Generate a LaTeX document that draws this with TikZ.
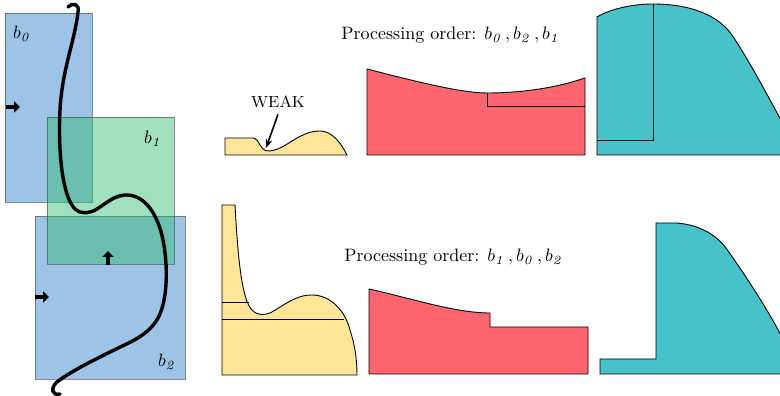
\documentclass[tikz,border=0pt]{standalone}
\usepackage{amsmath,amssymb}
\usepackage{xcolor,tikz}
\usetikzlibrary{arrows.meta}
\definecolor{blkblue}{RGB}{37,122,199}
\definecolor{blkgreen}{RGB}{44,186,110}
\definecolor{partyel}{RGB}{255,229,153}
\definecolor{partred}{RGB}{255,102,112}
\definecolor{partteal}{RGB}{72,193,200}

\begin{document}
\begin{tikzpicture}[x=0.556pt,y=-0.556pt,
  blk/.style={draw=black!70,line width=0.5pt,fill opacity=0.45,draw opacity=0.65},
  part/.style={draw=black,line width=0.5pt},
  push/.style={line width=2.2pt,-{Triangle[length=3.2pt,width=6pt]}},
  lbl/.style={inner sep=0pt}]
\useasboundingbox (0,0) rectangle (780,396);
% blocks
\fill[blk,fill=blkblue] (5,13) rectangle (92,202);
\fill[blk,fill=blkblue] (35,216) rectangle (185,379);
\fill[blk,fill=blkgreen] (47,117) rectangle (174,264);
\node[lbl] (b0) at (22,34) {$b_{\mathit 0}$};
\node[lbl] (b1) at (153,139) {$b_{\mathit 1}$};
\node[lbl] (b2) at (167,362) {$b_{\mathit 2}$};
\draw[push] (6,107) -- (20,107);
\draw[push] (35,297) -- (49,297);
\draw[push] (108,265) -- (108,251);
% curve
\draw[line width=1.9pt,line cap=round] (68,7) .. controls (72,2) and (80,4) .. (78,12)
  .. controls (75,40) and (62,70) .. (60,110) .. controls (58,150) and (62,190) .. (72,205)
  .. controls (76,212) and (82,214) .. (90,212) .. controls (100,210) and (110,196) .. (125,195)
  .. controls (145,194) and (158,215) .. (163,240) .. controls (168,265) and (168,300) .. (158,318)
  .. controls (148,336) and (130,342) .. (110,352) .. controls (90,362) and (70,372) .. (57,382)
  .. controls (50,388) and (52,396) .. (60,394);

% top row: b0, b2, b1
\node[lbl,anchor=base west] (order1) at (341,40) {Processing order: $b_{\mathit 0}\,,b_{\mathit 2}\,,b_{\mathit 1}$};
\filldraw[part,fill=partyel] (225,155) -- (225,138) -- (253,138) .. controls (259,138) and (260,151) .. (268,151)
  .. controls (285,151) and (298,131) .. (320,131) .. controls (333,131) and (342,145) .. (347,155) -- cycle;
\node[lbl,font=\small] (weak) at (278,102) {WEAK};
\coordinate (dip) at (266,148);
\draw[-{Stealth[length=5pt]},line width=0.9pt] (weak.south) ++(0,6) -- (dip);
\filldraw[part,fill=partred] (367,155) -- (367,69) .. controls (410,80) and (460,93) .. (487,93)
  .. controls (530,93) and (565,85) .. (585,78) -- (585,155) -- cycle;
\draw[part] (487,93) -- (487,106) -- (585,106);
\filldraw[part,fill=partteal] (597,155) -- (597,17) .. controls (612,8) and (635,4) .. (653,4)
  .. controls (690,4) and (718,15) .. (732,35) .. controls (750,62) and (770,100) .. (782,122) -- (782,155) -- cycle;
\draw[part] (597,140) -- (653,140) -- (653,4);

% bottom row: b1, b0, b2
\node[lbl,anchor=base west] (order2) at (344,262) {Processing order: $b_{\mathit 1}\,,b_{\mathit 0}\,,b_{\mathit 2}$};
\filldraw[part,fill=partyel] (222,375) -- (222,205) -- (235,205) .. controls (238,260) and (242,300) .. (252,310)
  .. controls (258,316) and (264,315) .. (270,313) .. controls (285,305) and (295,295) .. (312,295)
  .. controls (330,295) and (345,310) .. (350,330) .. controls (355,345) and (357,360) .. (357,375) -- cycle;
\draw[part] (222,302) -- (249,302);
\draw[part] (222,319) -- (344,319);
\filldraw[part,fill=partred] (369,374) -- (369,289) .. controls (410,298) and (455,313) .. (490,313)
  -- (490,327) -- (588,327) -- (588,374) -- cycle;
\filldraw[part,fill=partteal] (600,374) -- (600,359) -- (656,359) -- (656,223) -- (677,223)
  .. controls (700,225) and (716,235) .. (726,248) .. controls (745,275) and (765,305) .. (782,337) -- (782,374) -- cycle;
\end{tikzpicture}
\end{document}
